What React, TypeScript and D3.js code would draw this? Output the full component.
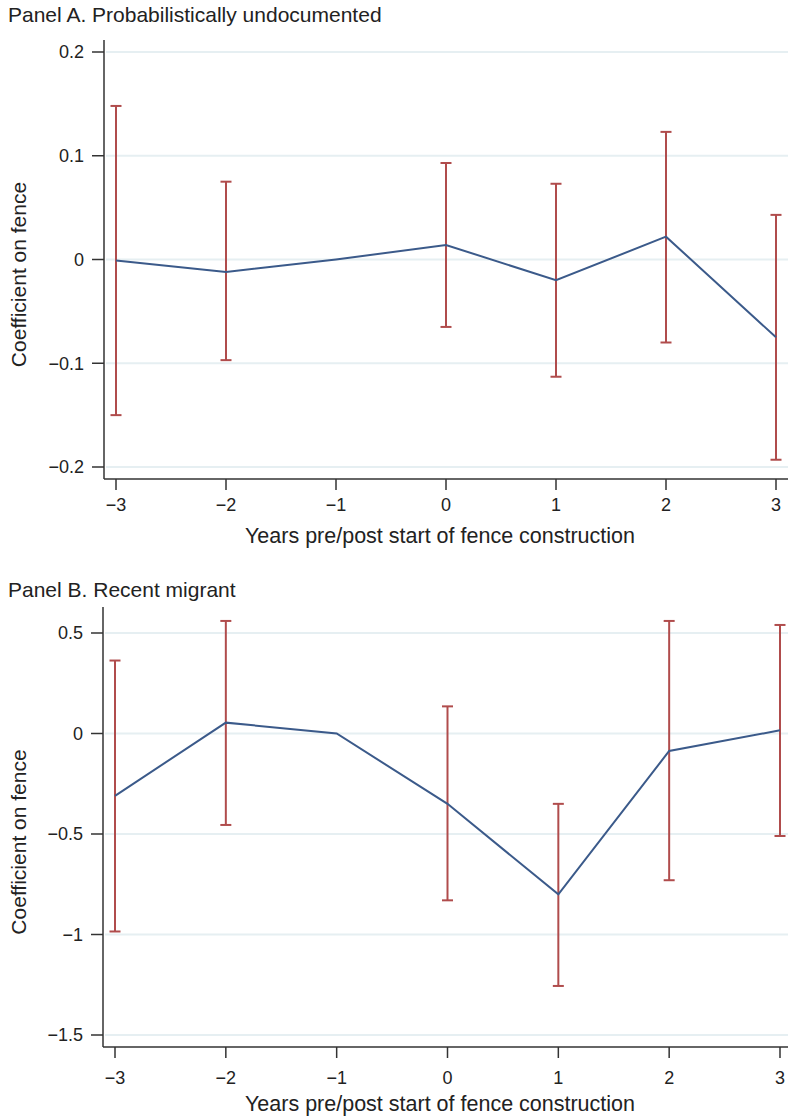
import React from "react";
import * as d3 from "d3";

// event-time years
const years = [-3, -2, -1, 0, 1, 2, 3];

// Panel A: probabilistically undocumented
const coefA = [-0.001, -0.012, 0, 0.014, -0.02, 0.022, -0.075];
const lowA = [-0.15, -0.097, null, -0.065, -0.113, -0.08, -0.193];
const highA = [0.148, 0.075, null, 0.093, 0.073, 0.123, 0.043];
const yTicksA = [-0.2, -0.1, 0, 0.1, 0.2];
const yLabelsA = ["−0.2", "−0.1", "0", "0.1", "0.2"];

// Panel B: recent migrant
const coefB = [-0.31, 0.054, 0, -0.35, -0.8, -0.087, 0.016];
const lowB = [-0.985, -0.455, null, -0.83, -1.256, -0.73, -0.51];
const highB = [0.363, 0.56, null, 0.135, -0.35, 0.56, 0.54];
const yTicksB = [-1.5, -1, -0.5, 0, 0.5];
const yLabelsB = ["−1.5", "−1", "−0.5", "0", "0.5"];

const xLabels = ["−3", "−2", "−1", "0", "1", "2", "3"];

const FONT = "'Liberation Sans', Arial, Helvetica, sans-serif";
const LINE = "#3b5a8a";
const BAR = "#b04c4c";
const GRID = "#e6eff2";
const AXIS = "#333";

function Panel({ title, titleY, left, top, bottom, xRange, yDomain, yRange, coef, low, high, yTicks, yLabels, labelY, titleXY }) {
  const x = d3.scaleLinear().domain([-3, 3]).range(xRange);
  const y = d3.scaleLinear().domain(yDomain).range(yRange);
  const right = 788;
  const line = d3
    .line<number>()
    .x((d, i) => x(years[i]))
    .y((d) => y(d));
  const midY = (top + bottom) / 2 + 15;

  return (
    <g fontFamily={FONT} fill="#222">
      <text x={8} y={titleY} fontSize={21}>
        {title}
      </text>

      {/* grid */}
      {yTicks.map((t) => (
        <line key={"g" + t} x1={left + 2} x2={right} y1={y(t)} y2={y(t)} stroke={GRID} strokeWidth={2} />
      ))}

      {/* error bars */}
      {years.map((yr, i) =>
        low[i] == null ? null : (
          <g key={"e" + yr} stroke={BAR} strokeWidth={2}>
            <line x1={x(yr)} x2={x(yr)} y1={y(low[i])} y2={y(high[i])} />
            <line x1={x(yr) - 5.5} x2={x(yr) + 5.5} y1={y(low[i])} y2={y(low[i])} />
            <line x1={x(yr) - 5.5} x2={x(yr) + 5.5} y1={y(high[i])} y2={y(high[i])} />
          </g>
        )
      )}

      <path d={line(coef) || ""} fill="none" stroke={LINE} strokeWidth={2} />

      {/* axes */}
      <line x1={left} x2={left} y1={top} y2={bottom} stroke={AXIS} strokeWidth={1.5} />
      <line x1={left} x2={right} y1={bottom} y2={bottom} stroke={AXIS} strokeWidth={1.5} />

      {yTicks.map((t, i) => (
        <g key={"y" + t}>
          <line x1={left - 12} x2={left} y1={y(t)} y2={y(t)} stroke={AXIS} strokeWidth={1.5} />
          <text x={left - 20} y={y(t)} dy="0.36em" textAnchor="end" fontSize={18}>
            {yLabels[i]}
          </text>
        </g>
      ))}

      {years.map((yr, i) => (
        <g key={"x" + yr}>
          <line x1={x(yr)} x2={x(yr)} y1={bottom} y2={bottom + 11} stroke={AXIS} strokeWidth={1.5} />
          <text x={x(yr)} y={labelY} dy="0.36em" textAnchor="middle" fontSize={18}>
            {xLabels[i]}
          </text>
        </g>
      ))}

      <text x={440} y={titleXY} dy="0.36em" textAnchor="middle" fontSize={21.5}>
        Years pre/post start of fence construction
      </text>
      <text
        transform={`translate(18,${midY}) rotate(-90)`}
        dy="0.36em"
        textAnchor="middle"
        fontSize={21}
      >
        Coefficient on fence
      </text>
    </g>
  );
}

export default function App() {
  return (
    <svg width={788} height={1117} style={{ position: "absolute", left: 0, top: 0, background: "#fff" }}>
      <rect width={788} height={1117} fill="#fff" />
      <Panel
        title="Panel A. Probabilistically undocumented"
        titleY={22}
        left={104}
        top={40}
        bottom={479}
        xRange={[116, 776]}
        yDomain={[-0.2, 0.2]}
        yRange={[467, 52]}
        coef={coefA}
        low={lowA}
        high={highA}
        yTicks={yTicksA}
        yLabels={yLabelsA}
        labelY={505}
        titleXY={535}
      />
      <Panel
        title="Panel B. Recent migrant"
        titleY={597}
        left={103}
        top={607}
        bottom={1047}
        xRange={[115, 780]}
        yDomain={[-1.5, 0.5]}
        yRange={[1035, 633]}
        coef={coefB}
        low={lowB}
        high={highB}
        yTicks={yTicksB}
        yLabels={yLabelsB}
        labelY={1078}
        titleXY={1103}
      />
    </svg>
  );
}
